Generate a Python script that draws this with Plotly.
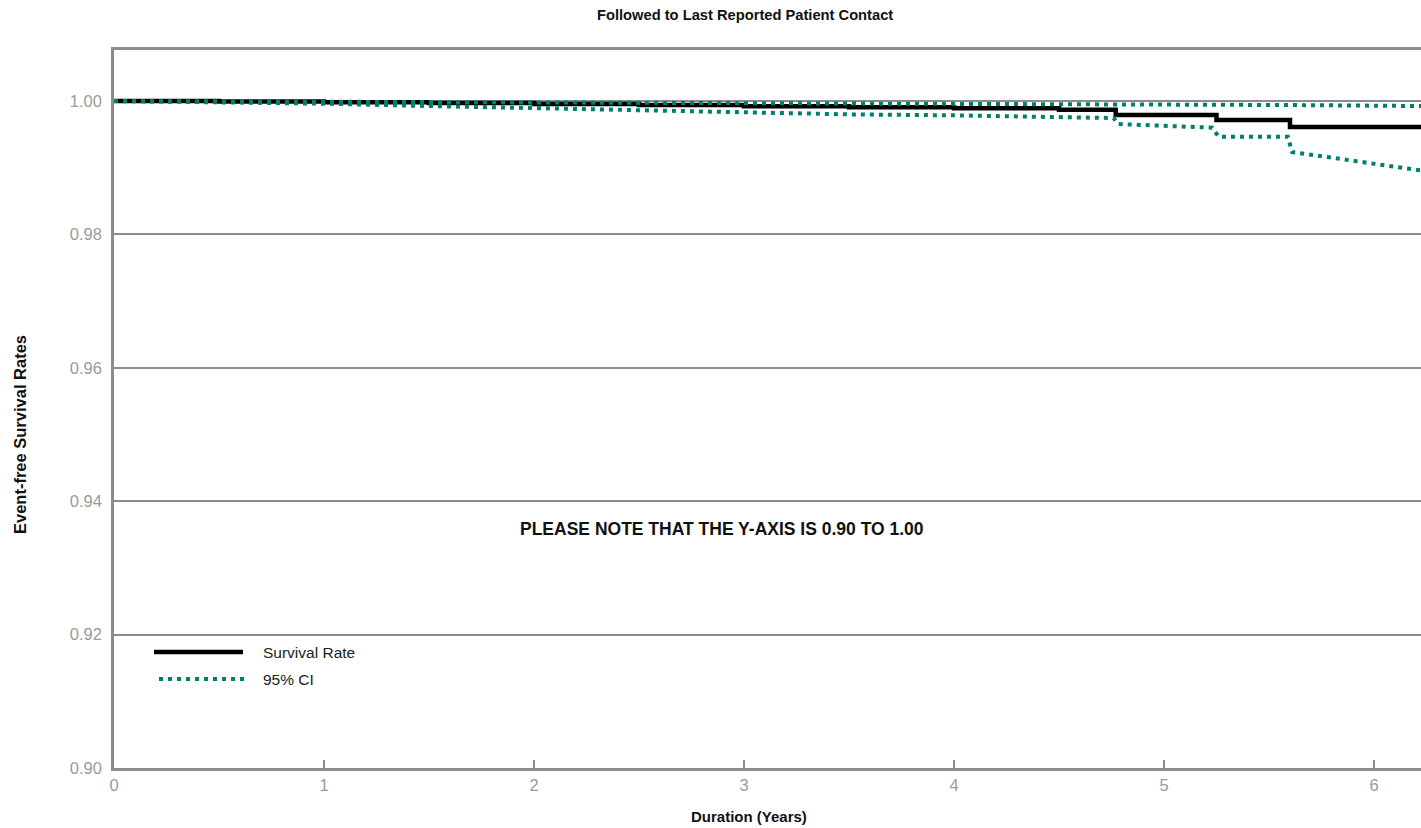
import plotly.graph_objects as go

# ---- data ----
surv_t = [0.0, 0.5, 1.0, 1.5, 2.0, 2.5, 3.0, 3.5, 4.0, 4.5, 4.77, 5.25, 5.60, 6.40]
surv_v = [1.0000, 0.99992, 0.99982, 0.99970, 0.99955, 0.99940, 0.99920, 0.99905,
          0.99890, 0.99868, 0.99790, 0.99715, 0.99610, 0.99610]

upper_t = [0.0, 1.5, 3.0, 4.7, 5.6, 6.4]
upper_v = [1.0000, 0.99985, 0.99970, 0.99955, 0.99940, 0.99920]

lower_t = [0.0, 0.5, 1.0, 1.5, 2.0, 2.5, 3.0, 3.5, 4.0, 4.5, 4.76, 4.78, 5.23, 5.26, 5.59, 5.61, 6.40]
lower_v = [1.0000, 0.99985, 0.99960, 0.99925, 0.99895, 0.99860, 0.99825, 0.99800,
           0.99785, 0.99760, 0.99745, 0.99655, 0.99600, 0.99465, 0.99465, 0.99235, 0.98880]

x_ticks = [0, 1, 2, 3, 4, 5, 6]
y_ticks = [0.90, 0.92, 0.94, 0.96, 0.98, 1.00]
y_tick_labels = ["0.90", "0.92", "0.94", "0.96", "0.98", "1.00"]

title_text = "Followed to Last Reported Patient Contact"
x_title = "Duration (Years)"
y_title = "Event-free Survival Rates"
note_text = "PLEASE NOTE THAT THE Y-AXIS IS 0.90 TO 1.00"
legend_labels = ["Survival Rate", "95% CI"]

# ---- styles / layout geometry ----
TEAL = "#00806a"
GRID = "#8c8c8c"
TICKFONT = dict(family="Liberation Sans, Arial, sans-serif", size=16.5, color="#9a9a9a")
BOLD = "Liberation Sans, Arial, sans-serif"
CI_DASH = "4px,5px"

W, H = 1421, 828
ML, MT, MB, MR = 114, 50, 60, 0
PX0, PY0, PW, PH = ML, MT, W - ML - MR, H - MT - MB


def px(X):
    return (X - PX0) / PW


def py(Y):
    return (PY0 + PH - Y) / PH


fig = go.Figure()
fig.add_trace(go.Scatter(x=surv_t, y=surv_v, mode="lines", line=dict(color="black", width=4.5, shape="hv"),
                         name=legend_labels[0], showlegend=False, hoverinfo="skip"))
fig.add_trace(go.Scatter(x=upper_t, y=upper_v, mode="lines", line=dict(color=TEAL, width=4, dash=CI_DASH),
                         name=legend_labels[1], showlegend=False, hoverinfo="skip"))
fig.add_trace(go.Scatter(x=lower_t, y=lower_v, mode="lines", line=dict(color=TEAL, width=4, dash=CI_DASH),
                         name=legend_labels[1], showlegend=False, hoverinfo="skip"))

fig.update_layout(
    width=W, height=H,
    margin=dict(l=ML, r=MR, t=MT, b=MB, pad=0),
    plot_bgcolor="white", paper_bgcolor="white",
    showlegend=False,
)
fig.update_xaxes(range=[0, PW / 210.0], tickvals=x_ticks, ticks="inside", ticklen=8, tickwidth=2, tickcolor=GRID,
                 showline=True, linecolor=GRID, linewidth=2.5, mirror=True, showgrid=False, zeroline=False,
                 tickfont=TICKFONT, ticklabelstandoff=0)
fig.update_yaxes(range=[0.9, 1.00765], tickvals=y_ticks, ticktext=y_tick_labels, showgrid=True,
                 gridcolor=GRID, gridwidth=2, showline=True, linecolor=GRID, linewidth=2.5, zeroline=False,
                 tickfont=TICKFONT, ticklabelstandoff=6)

ann = []
ann.append(dict(text="<b>%s</b>" % title_text, xref="paper", yref="paper", x=px(745), y=py(15),
                xanchor="center", yanchor="middle", showarrow=False, font=dict(family=BOLD, size=14.7, color="#111")))
ann.append(dict(text="<b>%s</b>" % x_title, xref="paper", yref="paper", x=px(749), y=py(816),
                xanchor="center", yanchor="middle", showarrow=False, font=dict(family=BOLD, size=15, color="#111")))
ann.append(dict(text="<b>%s</b>" % y_title, xref="paper", yref="paper", x=px(20), y=py(435),
                xanchor="center", yanchor="middle", textangle=-90, showarrow=False,
                font=dict(family=BOLD, size=16.5, color="#111")))
ann.append(dict(text="<b>%s</b>" % note_text, xref="paper", yref="paper", x=px(722), y=py(529),
                xanchor="center", yanchor="middle", showarrow=False, font=dict(family=BOLD, size=17.5, color="#111")))
# legend (drawn manually to match the long line samples)
leg_y = [py(652), py(679)]
for i, lab in enumerate(legend_labels):
    ann.append(dict(text=lab, xref="paper", yref="paper", x=px(261), y=leg_y[i],
                    xanchor="left", yanchor="middle", showarrow=False,
                    font=dict(family="Liberation Sans, Arial, sans-serif", size=15.5, color="#222")))
fig.update_layout(annotations=ann)
fig.add_shape(type="line", xref="paper", yref="paper", x0=px(154), x1=px(243),
              y0=leg_y[0], y1=leg_y[0], line=dict(color="black", width=4.5))
fig.add_shape(type="line", xref="paper", yref="paper", x0=px(159), x1=px(247),
              y0=leg_y[1], y1=leg_y[1], line=dict(color=TEAL, width=4, dash=CI_DASH))

fig.write_html("out.html", config={"displayModeBar": False},
               post_script="document.body.style.margin='0';document.body.style.overflow='hidden';")
